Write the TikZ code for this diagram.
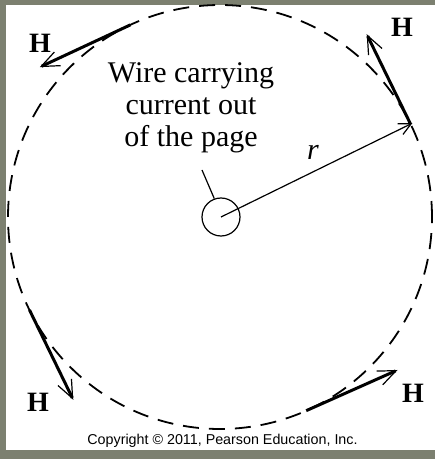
\documentclass[tikz,border=0pt]{standalone}
\usepackage{fontspec}
\setmainfont{Liberation Serif}
\newfontfamily\cpfont{Liberation Sans}
\usetikzlibrary{arrows.meta,calc}
\definecolor{framegray}{RGB}{124,128,112}
\begin{document}
\begin{tikzpicture}[x=1pt,y=1pt,
  field/.style={line width=3pt, -{Straight Barb[length=18pt,width=15pt,line width=1.2pt]}},
  hlabel/.style={font=\fontsize{28}{28}\selectfont\bfseries, inner sep=0pt},
  loop/.style={line width=1.8pt, dash pattern=on 16pt off 10pt},
  thin/.style={line width=1.2pt}]
\fill[framegray] (0,0) rectangle (435,459);
\fill[white] (6,9) rectangle (435,454);
\useasboundingbox (0,0) rectangle (435,459);
\coordinate (c) at (220,242);
\draw[loop] (c) circle[radius=212];
\node[draw, circle, minimum size=38pt, inner sep=0pt, thin] (wire) at (221,242) {};
% radius
\coordinate (rend) at ($(c)+(26:214)$);
\draw[thin, -{Straight Barb[length=12pt,width=12pt]}] (wire.center) -- (rend);
\node[font=\fontsize{30}{30}\selectfont\itshape, inner sep=0pt] (rlab) at (313,307) {r};
% text
\node[font=\fontsize{30}{32.5}\selectfont, align=center, inner sep=0pt, anchor=base] (txt) at (191,312) {Wire carrying\\current out\\of the page};
\coordinate (lead) at (202,289);
\draw[thin] (lead) -- (wire.110);
% H vectors
\coordinate (t1) at ($(c)+(26:212)$);   \coordinate (h1) at ($(t1)+(116:100)$);
\coordinate (t2) at ($(c)+(115:212)$);  \coordinate (h2) at ($(t2)+(205:100)$);
\coordinate (t3) at ($(c)+(206:212)$);  \coordinate (h3) at ($(t3)+(296:100)$);
\coordinate (t4) at ($(c)+(294:212)$);  \coordinate (h4) at ($(t4)+(24:100)$);
\draw[field] (t1) -- (h1);
\draw[field] (t2) -- (h2);
\draw[field] (t3) -- (h3);
\draw[field] (t4) -- (h4);
\node[hlabel] (H1) at (402,432) {H};
\node[hlabel] (H2) at (40,416) {H};
\node[hlabel] (H3) at (38,57) {H};
\node[hlabel] (H4) at (413,66) {H};
\node[font=\cpfont\fontsize{14.3}{14.3}\selectfont, anchor=base, inner sep=0pt] (copy) at (222.5,14) {Copyright © 2011, Pearson Education, Inc.};
\end{tikzpicture}
\end{document}
